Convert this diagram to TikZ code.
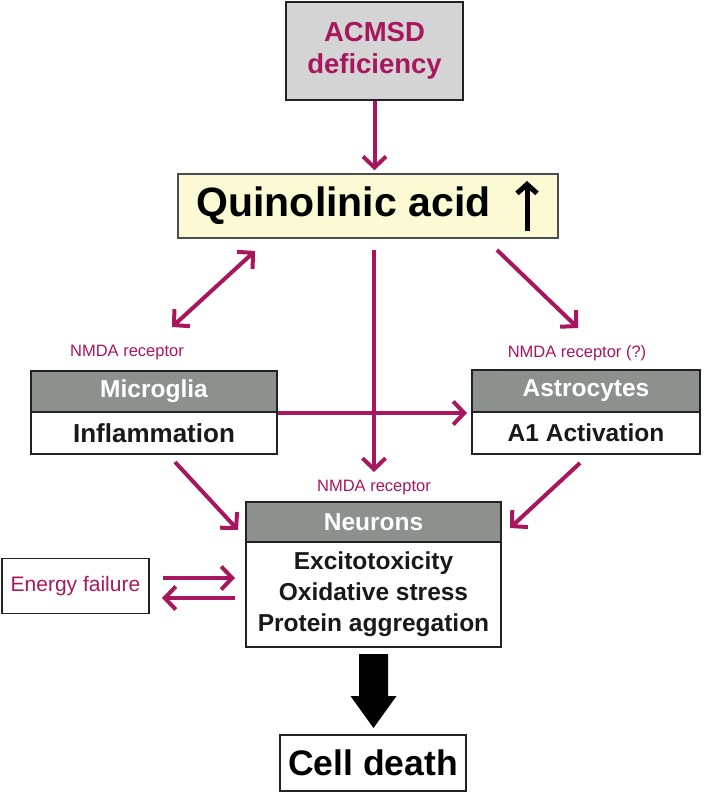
\documentclass[tikz,border=0pt]{standalone}
\usepackage{fontspec}
\setmainfont{Liberation Sans}
\usetikzlibrary{arrows.meta}
\definecolor{mag}{HTML}{A8175E}
\definecolor{hdr}{HTML}{8C918E}
\definecolor{acm}{HTML}{D4D4D4}
\definecolor{qay}{HTML}{FCFAD4}
\definecolor{bd}{HTML}{222222}
\tikzset{
  box/.style={draw=bd, line width=2pt, inner sep=0pt, align=center},
  hdrbox/.style={box, fill=hdr, text=white, font=\bfseries\fontsize{24.5}{27}\selectfont},
  bodybox/.style={box, fill=white, text=black!90, font=\bfseries\fontsize{24.5}{31}\selectfont},
  arr/.style={draw=mag, line width=4pt, -{Straight Barb[length=11pt,width=23pt]}},
  darr/.style={draw=mag, line width=4pt, {Straight Barb[length=11pt,width=23pt]}-{Straight Barb[length=11pt,width=23pt]}},
  lbl/.style={text=mag, font=\fontsize{16.5}{19}\selectfont, inner sep=0pt}
}
\begin{document}
\begin{tikzpicture}[x=1pt,y=-1pt]
\fill[white] (0,0) rectangle (718,792);
\useasboundingbox (0,0) rectangle (718,792);

\node[box, fill=acm, line width=2.5pt, minimum width=177pt, minimum height=98pt, text=mag,
      font=\bfseries\fontsize{27.5}{32}\selectfont] (acmsd) at (374.5,51) {ACMSD\\deficiency};

\node[box, draw=bd!80, line width=1.5pt, fill=qay, minimum width=380pt, minimum height=64pt] (qa) at (368,206) {};
\node[inner sep=0pt, font=\bfseries\fontsize{41}{46}\selectfont] (qat) at (343.5,206) {Quinolinic acid};
\coordinate (up1) at (527,231);
\coordinate (up2) at (527,181);
\draw[line width=5pt, -{Straight Barb[length=9pt,width=20pt]}] (up1) -- (up2);

\node[hdrbox, minimum width=246pt, minimum height=41pt] (mgh) at (154,391.5) {Microglia};
\node[bodybox, minimum width=246pt, minimum height=42pt, font=\bfseries\fontsize{26}{31}\selectfont] (mgb) at (154,433) {Inflammation};

\node[hdrbox, minimum width=228pt, minimum height=42pt] (ash) at (586,391) {Astrocytes};
\node[bodybox, minimum width=228pt, minimum height=42pt] (asb) at (586,433) {A1 Activation};

\node[hdrbox, minimum width=255pt, minimum height=40pt] (nh) at (373.5,522) {Neurons};
\node[bodybox, minimum width=255pt, minimum height=105pt] (nb) at (373.5,594.5)
      {Excitotoxicity\\Oxidative stress\\Protein aggregation};

\node[box, line width=1.5pt, minimum width=147pt, minimum height=55pt, text=mag,
      font=\fontsize{21}{24}\selectfont] (ef) at (75.5,586) {Energy failure};

\node[box, line width=2.5pt, minimum width=186pt, minimum height=56pt,
      font=\bfseries\fontsize{35.5}{40}\selectfont] (cd) at (373,763) {Cell death};

\node[lbl] (l1) at (127,353) {NMDA receptor};
\node[lbl] (l2) at (577,353) {NMDA receptor (?)};
\node[lbl] (l3) at (374,488) {NMDA receptor};

% connector endpoints
\coordinate (d1) at (255,251);
\coordinate (d2) at (172,327);
\coordinate (v1) at (374,250);
\coordinate (v2) at (374,472);
\coordinate (r1) at (497,250);
\coordinate (r2) at (578,328);
\coordinate (m1) at (175,462);
\coordinate (m2) at (238,530);
\coordinate (a1) at (580,463);
\coordinate (a2) at (510,528);
\coordinate (e1) at (163,578);
\coordinate (e2) at (235,578);
\coordinate (e3) at (235,598);
\coordinate (e4) at (162,598);

\draw[arr, shorten >=3pt] (acmsd.south) -- (qa.north -| acmsd.south);
\draw[darr] (d1) -- (d2);
\draw[arr] (v1) -- (v2);
\draw[arr] (r1) -- (r2);
\draw[arr, shorten >=4pt] (mgh.south east) -- (ash.south west);
\draw[arr] (m1) -- (m2);
\draw[arr] (a1) -- (a2);
\draw[arr] (e1) -- (e2);
\draw[arr] (e3) -- (e4);

% big black arrow
\fill[black] (nb.south) ++(-14.5,6) -- ++(29,0) -- ++(0,42) -- ++(8.5,0)
      -- ++(-23,32) -- ++(-23,-32) -- ++(8.5,0) -- cycle;
\end{tikzpicture}
\end{document}
